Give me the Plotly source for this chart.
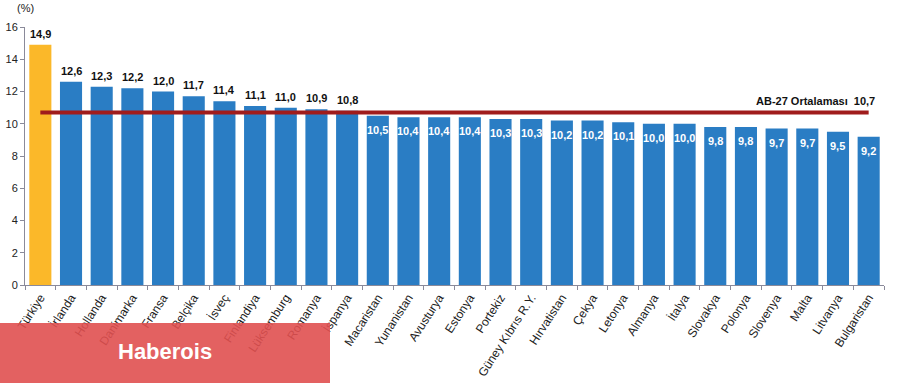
import plotly.graph_objects as go

countries = ["Türkiye", "İrlanda", "Hollanda", "Danimarka", "Fransa", "Belçika", "İsveç",
             "Finlandiya", "Lüksemburg", "Romanya", "İspanya", "Macaristan", "Yunanistan",
             "Avusturya", "Estonya", "Portekiz", "Güney Kıbrıs R.Y.", "Hırvatistan", "Çekya",
             "Letonya", "Almanya", "İtalya", "Slovakya", "Polonya", "Slovenya", "Malta",
             "Litvanya", "Bulgaristan"]
values = [14.9, 12.6, 12.3, 12.2, 12.0, 11.7, 11.4, 11.1, 11.0, 10.9, 10.8, 10.5, 10.4,
          10.4, 10.4, 10.3, 10.3, 10.2, 10.2, 10.1, 10.0, 10.0, 9.8, 9.8, 9.7, 9.7, 9.5, 9.2]
eu_average = 10.7
avg_label = "AB-27 Ortalaması  10,7"
y_ticks = [0, 2, 4, 6, 8, 10, 12, 14, 16]

FONT = "Liberation Sans, Arial, sans-serif"
colors = ["#FBB829" if c == "Türkiye" else "#2A7DC4" for c in countries]

W, H = 904, 383
L, R, T, B = 25, 20, 27, 98
PW, PH = W - L - R, H - T - B

fig = go.Figure()
fig.add_trace(go.Bar(x=countries, y=values, marker_color=colors, marker_line_width=0,
                     hoverinfo="x+y"))

# EU average line
fig.add_trace(go.Scatter(x=[countries[0], countries[-1]], y=[eu_average, eu_average],
                         mode="lines", line=dict(color="#A01C1C", width=4),
                         hoverinfo="skip"))

annotations = []
for c, v in zip(countries, values):
    txt = f"{v:.1f}".replace(".", ",")
    if v > eu_average:
        annotations.append(dict(x=c, y=v, text=f"<b>{txt}</b>", showarrow=False,
                                yanchor="bottom", yshift=3,
                                font=dict(family=FONT, size=11, color="#111111")))
    else:
        annotations.append(dict(x=c, y=v, text=f"<b>{txt}</b>", showarrow=False,
                                yanchor="top", yshift=-6,
                                font=dict(family=FONT, size=11, color="white")))

annotations.append(dict(x=countries[-1], y=eu_average, text=f"<b>{avg_label}</b>",
                        showarrow=False, xanchor="right", yanchor="bottom", xshift=8, yshift=3,
                        font=dict(family=FONT, size=11, color="#111111")))
annotations.append(dict(xref="paper", yref="paper", x=0, y=1 + 19 / PH, text="(%)",
                        showarrow=False, xanchor="center", yanchor="middle",
                        font=dict(family=FONT, size=11, color="#222222")))
annotations.append(dict(xref="paper", yref="paper", x=(165 - L) / PW, y=-(351 - T - PH) / PH,
                        text="<b>Haberois</b>", showarrow=False, xanchor="center",
                        yanchor="middle",
                        font=dict(family="Liberation Sans, Arial, sans-serif", size=22,
                                  color="white")))

fig.update_layout(
    width=W, height=H,
    margin=dict(l=L, r=R, t=T, b=B, autoexpand=False),
    plot_bgcolor="white", paper_bgcolor="white",
    showlegend=False, bargap=0.28,
    font=dict(family=FONT, size=11, color="#222222"),
    annotations=annotations,
    xaxis=dict(range=[-0.5, len(countries) - 0.5], tickangle=-57, showline=True,
               linecolor="#8A8A9A", linewidth=1, ticks="outside", tickson="boundaries",
               ticklen=4, tickcolor="#8A8A9A", showgrid=False, automargin=False,
               tickfont=dict(family=FONT, size=12, color="#222222")),
    yaxis=dict(range=[0, 16], tickvals=y_ticks, showline=True, linecolor="#8A8A9A",
               linewidth=1, ticks="outside", ticklen=4, tickcolor="#8A8A9A",
               showgrid=False, zeroline=False, automargin=False,
               tickfont=dict(family=FONT, size=11, color="#222222")),
    shapes=[dict(type="rect", xref="paper", yref="paper", layer="above",
                 x0=-L / PW, x1=(330 - L) / PW, y0=-(383 - T - PH) / PH,
                 y1=-(323 - T - PH) / PH,
                 fillcolor="rgba(224,80,80,0.9)", line_width=0)],
)

fig.write_html("out.html", config={"displayModeBar": False},
               post_script="document.body.style.margin='0';document.body.style.overflow='hidden';")
